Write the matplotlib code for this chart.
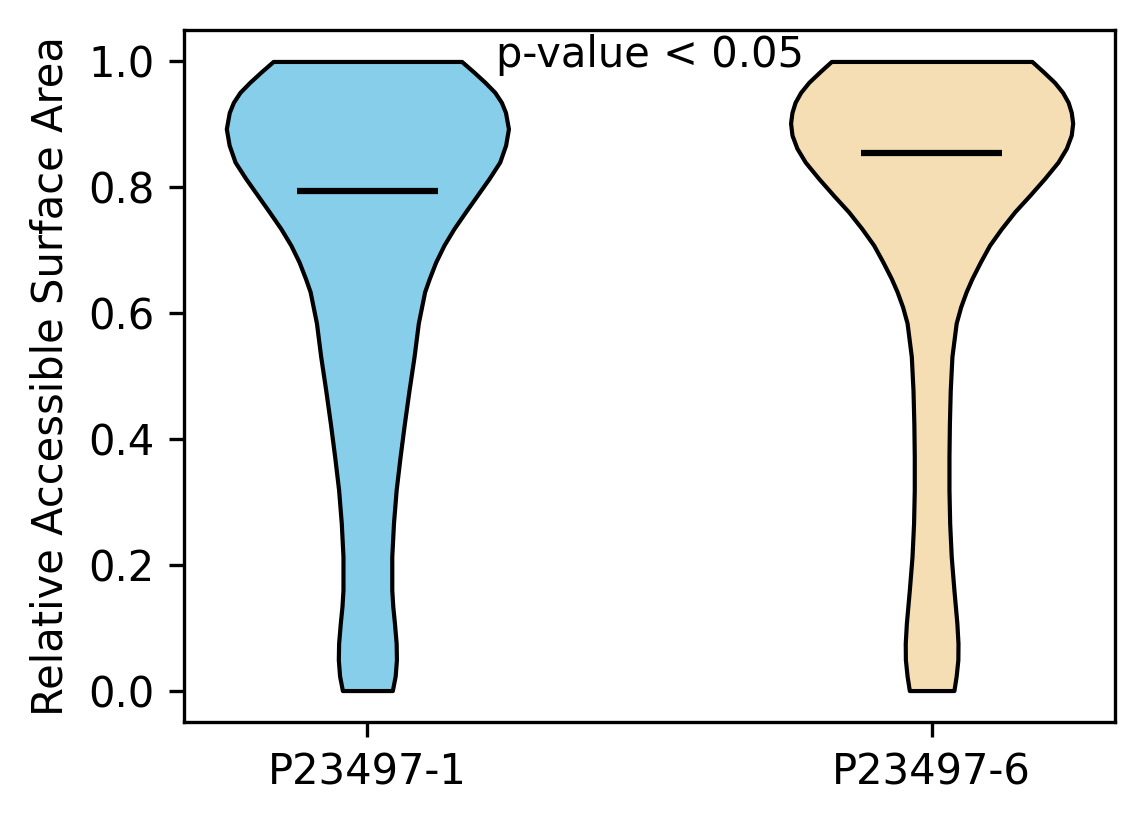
import matplotlib
matplotlib.use("Agg")
import matplotlib.pyplot as plt
import numpy as np

categories = ["P23497-1", "P23497-6"]
colors = ["skyblue", "wheat"]
means = [0.794, 0.854]
medians = [0.85, 0.89]

# Density profile (relative half-width)
coords_1 = [0.0, 0.023, 0.049, 0.075, 0.107, 0.134, 0.16, 0.213, 0.266, 0.319,
            0.372, 0.424, 0.477, 0.531, 0.584, 0.634, 0.655, 0.681, 0.708, 0.734,
            0.761, 0.787, 0.814, 0.84, 0.867, 0.893, 0.919, 0.935, 0.951, 0.967,
            0.984, 1.0]
dens_1 = [0.177, 0.197, 0.206, 0.204, 0.192, 0.18, 0.173, 0.173, 0.185, 0.204,
          0.232, 0.262, 0.295, 0.331, 0.361, 0.406, 0.439, 0.484, 0.543, 0.613,
          0.696, 0.778, 0.863, 0.938, 0.98, 1.0, 0.979, 0.95, 0.903, 0.833,
          0.75, 0.668]

coords_2 = [0.0, 0.023, 0.049, 0.075, 0.107, 0.16, 0.213, 0.266, 0.319, 0.372,
            0.424, 0.477, 0.531, 0.584, 0.61, 0.634, 0.655, 0.681, 0.708, 0.734,
            0.761, 0.787, 0.814, 0.84, 0.862, 0.883, 0.902, 0.919, 0.935, 0.951,
            0.967, 0.984, 1.0]
dens_2 = [0.158, 0.174, 0.186, 0.187, 0.179, 0.158, 0.139, 0.128, 0.123, 0.123,
          0.126, 0.132, 0.144, 0.174, 0.206, 0.245, 0.286, 0.345, 0.411, 0.494,
          0.589, 0.695, 0.801, 0.896, 0.955, 0.99, 1.0, 0.99, 0.968, 0.928,
          0.87, 0.79, 0.711]

coords = [coords_1, coords_2]
dens = [dens_1, dens_2]

fig = plt.figure(figsize=(1144 / 300, 824 / 300), dpi=300)
ax = fig.add_axes([184 / 1144, 1 - 722 / 824, (1115 - 184) / 1144, (722 - 30) / 824])

vpstats = []
for c, d, m, md in zip(coords, dens, means, medians):
    c = np.asarray(c)
    d = np.asarray(d)
    vpstats.append(dict(coords=c, vals=d, mean=m, median=md, min=c.min(), max=c.max()))

parts = ax.violin(vpstats, positions=[1, 2], widths=0.5,
                  showmeans=True, showextrema=False, showmedians=False)
for body, col in zip(parts["bodies"], colors):
    body.set_facecolor(col)
    body.set_edgecolor("black")
    body.set_linewidth(1.0)
    body.set_alpha(1)
    body.set_joinstyle("round")
parts["cmeans"].set_color("black")
parts["cmeans"].set_linewidth(1.5)

ax.set_xticks([1, 2])
ax.set_xticklabels(categories)
ax.set_ylabel("Relative Accessible Surface Area")
ax.text(1.5, 1.01, "p-value < 0.05", ha="center", va="center", fontsize=10)

fig.savefig("out.png", dpi=300)
